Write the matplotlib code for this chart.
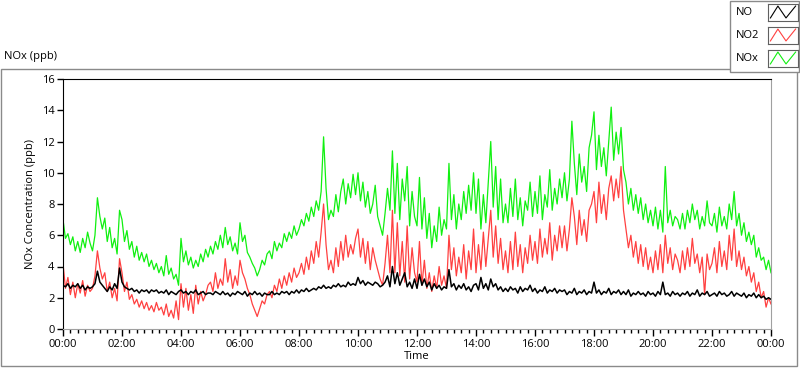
import numpy as np
import matplotlib.pyplot as plt
from matplotlib.patches import Rectangle

# === Data (5-minute readings, one row per hour, 00:00 -> 24:00) ===

nox_ppb = [
    7.0, 5.8, 6.1, 5.4, 5.9, 5.0, 5.6, 4.9, 5.8, 5.2, 6.2, 5.5,
    5.0, 6.0, 8.4, 7.2, 6.4, 7.1, 5.6, 6.5, 5.2, 5.8, 4.8, 7.6,
    7.0, 5.6, 6.3, 5.1, 5.6, 4.6, 5.3, 4.4, 4.9, 4.3, 4.8, 4.0,
    4.4, 3.8, 4.2, 3.6, 4.0, 3.4, 4.7, 3.5, 3.9, 3.2, 3.5, 2.8,
    5.8, 4.3, 5.0, 4.1, 4.6, 3.9, 4.4, 4.0, 4.8, 4.3, 5.1, 4.6,
    5.3, 4.8, 5.6, 5.1, 6.0, 5.2, 6.5, 5.4, 5.9, 5.0, 5.5, 4.8,
    6.8, 5.6, 6.0, 4.9, 4.6, 4.2, 3.9, 3.4, 3.8, 4.4, 4.1, 4.8,
    5.0, 4.5, 5.6, 5.0, 5.5, 5.2, 6.1, 5.6, 6.2, 5.8, 6.6, 6.0,
    6.4, 7.0, 6.6, 7.4, 6.9, 7.8, 7.2, 8.2, 7.6, 8.8, 12.3, 9.0,
    7.0, 7.6, 7.2, 8.6, 7.5, 8.8, 9.6, 8.0, 9.3, 8.4, 9.9, 8.6,
    10.0, 8.2, 9.4, 7.8, 8.8, 7.4, 8.0, 9.2, 7.2, 6.6, 6.0, 7.4,
    9.0, 7.6, 11.4, 7.4, 10.6, 7.0, 9.6, 8.2, 10.4, 6.6, 8.8, 7.2,
    6.6, 9.7, 6.4, 8.4, 5.8, 7.4, 5.2, 6.6, 5.6, 7.8, 6.0, 7.0,
    6.4, 10.6, 7.0, 8.6, 6.4, 8.0, 7.0, 8.8, 7.4, 9.2, 7.6, 10.0,
    7.4, 9.6, 6.4, 8.6, 6.8, 9.4, 12.0, 7.8, 10.4, 7.0, 9.6, 6.8,
    8.0, 6.8, 9.0, 7.2, 9.6, 7.0, 8.4, 6.6, 8.2, 7.6, 9.4, 7.2,
    8.8, 7.4, 9.8, 7.0, 8.6, 7.8, 10.2, 7.6, 9.0, 8.0, 9.6, 8.4,
    10.0, 8.2, 9.6, 13.3, 10.6, 8.6, 11.2, 9.4, 10.4, 8.8, 11.6, 12.4,
    13.9, 10.2, 12.4, 10.4, 11.6, 9.8, 12.0, 14.2, 10.8, 12.6, 11.2, 12.9,
    10.2, 9.4, 8.0, 9.0, 7.6, 8.6, 7.4, 8.4, 7.0, 8.0, 6.8, 7.6,
    6.6, 7.8, 6.4, 7.6, 6.2, 10.4, 6.8, 7.6, 6.6, 7.2, 7.0, 6.4,
    7.4, 6.4, 7.6, 6.8, 8.0, 7.0, 7.6, 6.4, 7.2, 6.6, 8.2, 6.8,
    6.6, 7.4, 6.2, 7.8, 6.6, 7.2, 6.4, 8.0, 7.0, 8.8, 6.6, 7.4,
    6.0, 6.8, 5.6, 6.2, 5.4, 6.0, 4.6, 5.2, 4.4, 4.6, 3.8, 4.4,
    3.6,
]

no2_ppb = [
    4.2, 2.6, 3.3, 2.2, 3.0, 2.0, 2.9, 2.3, 3.1, 2.1, 2.8, 2.4,
    2.6, 3.4, 5.0, 3.9, 3.2, 3.6, 2.4, 3.0, 2.0, 2.6, 1.8, 4.5,
    3.6, 2.4, 3.0, 1.9, 2.2, 1.6, 1.9, 1.4, 1.8, 1.3, 1.7, 1.2,
    1.5, 1.1, 1.7, 1.2, 1.4, 0.9, 1.6, 0.8, 1.2, 0.7, 1.8, 0.6,
    2.9, 1.4, 2.6, 1.2, 2.2, 1.0, 2.8, 1.6, 2.4, 1.8, 2.2, 2.8,
    3.0, 2.4, 3.6, 2.6, 3.2, 2.8, 4.5, 3.0, 3.8, 2.6, 3.4, 2.8,
    4.4, 3.6, 3.2, 2.6, 2.2, 1.6, 1.2, 0.8, 1.3, 1.8, 1.6, 2.2,
    2.4, 2.0, 2.8, 2.4, 3.2, 2.6, 3.4, 2.8, 3.6, 3.0, 3.9, 3.3,
    3.6, 4.2, 3.5, 4.6, 3.8, 5.0, 4.2, 5.6, 4.6, 6.2, 8.0, 5.4,
    3.8, 4.4, 3.6, 5.2, 4.0, 5.6, 4.4, 6.0, 4.6, 5.4, 4.8, 5.8,
    6.4, 4.6, 5.8, 4.2, 5.6, 3.8, 5.2, 4.4, 3.8, 3.2, 2.8, 4.2,
    6.0, 3.6, 7.6, 3.6, 6.8, 3.4, 5.6, 3.0, 6.6, 3.2, 5.2, 3.6,
    3.0, 5.6, 2.8, 4.4, 2.6, 3.6, 2.4, 3.4, 2.6, 4.0, 2.8, 3.4,
    2.6, 6.0, 3.8, 5.2, 3.4, 4.6, 3.6, 5.4, 3.2, 5.0, 3.8, 6.4,
    3.6, 5.4, 3.8, 6.2, 4.0, 5.8, 7.6, 4.6, 6.6, 4.2, 5.8, 3.8,
    5.0, 3.6, 5.6, 3.8, 6.2, 4.0, 5.4, 3.6, 5.2, 4.2, 6.0, 4.4,
    5.6, 4.2, 6.4, 4.6, 5.8, 4.8, 6.8, 4.4, 6.0, 5.0, 6.6, 5.2,
    6.6, 5.0, 6.4, 8.4, 7.2, 5.4, 7.6, 6.0, 7.0, 5.6, 7.6, 8.0,
    8.8, 6.8, 9.4, 7.4, 8.6, 7.0, 9.0, 9.8, 8.2, 9.6, 8.4, 10.4,
    7.6, 6.4, 5.2, 6.0, 4.6, 5.6, 4.2, 5.4, 4.0, 5.2, 3.8, 4.6,
    3.6, 5.0, 3.8, 5.4, 3.6, 6.0, 4.2, 5.2, 3.8, 4.8, 4.4, 3.6,
    5.0, 3.8, 5.2, 4.0, 5.8, 4.2, 4.8, 3.6, 4.6, 2.2, 4.8, 3.8,
    4.2, 5.2, 3.6, 5.6, 4.0, 5.0, 3.8, 6.0, 4.4, 6.4, 4.0, 5.0,
    3.8, 4.6, 3.4, 4.0, 3.0, 3.6, 2.4, 3.0, 2.0, 2.4, 1.4, 2.0,
    1.6,
]

no_ppb = [
    2.8, 2.7, 2.9, 2.6, 2.8, 2.7, 2.9, 2.6, 2.8, 2.5, 2.7, 2.6,
    2.7, 2.9, 3.7, 3.0, 2.8, 2.6, 2.4, 2.7, 2.5, 2.9, 2.6, 3.9,
    3.0, 2.7, 2.6, 2.5, 2.6, 2.4, 2.5, 2.3, 2.5, 2.4, 2.5, 2.3,
    2.5, 2.4, 2.5, 2.3, 2.4, 2.3, 2.5, 2.2, 2.4, 2.3, 2.2, 2.4,
    2.5, 2.3, 2.4, 2.2, 2.4, 2.3, 2.5, 2.2, 2.3, 2.4, 2.2, 2.3,
    2.3, 2.2, 2.4, 2.3, 2.2, 2.4, 2.2, 2.3, 2.1, 2.3, 2.2, 2.4,
    2.3, 2.2, 2.4, 2.1, 2.3, 2.2, 2.4, 2.2, 2.3, 2.1, 2.3, 2.2,
    2.2, 2.4, 2.2, 2.3, 2.2, 2.4, 2.3, 2.4, 2.2, 2.4, 2.3, 2.5,
    2.3, 2.5, 2.4, 2.6, 2.4, 2.5, 2.6, 2.5, 2.7, 2.6, 2.8, 2.6,
    2.7, 2.6, 2.8, 2.7, 2.9, 2.7, 2.8, 2.7, 3.0, 2.8, 2.9, 2.8,
    3.3, 2.9, 3.1, 2.8, 3.0, 2.9, 2.8, 3.0, 2.9, 2.7, 2.8, 3.0,
    3.4, 2.7, 4.0, 2.9, 3.6, 2.8, 3.2, 3.6, 2.7, 3.0, 2.6, 3.2,
    2.6, 3.5, 2.8, 3.2, 2.7, 3.0, 2.5, 2.9, 2.6, 2.8, 2.5, 2.7,
    2.6, 3.8, 2.7, 2.9, 2.5, 2.8, 2.6, 2.9, 2.5, 2.7, 2.4, 2.8,
    2.9, 2.5, 3.3, 2.6, 2.9, 2.5, 3.2, 2.7, 2.9, 2.5, 2.7, 2.4,
    2.6, 2.4, 2.7, 2.5, 2.6, 2.3, 2.7, 2.4, 2.6, 2.5, 2.8, 2.4,
    2.6, 2.3, 2.5, 2.4, 2.7, 2.3, 2.5, 2.4, 2.6, 2.3, 2.5, 2.4,
    2.5, 2.2, 2.4, 2.3, 2.6, 2.2, 2.4, 2.3, 2.5, 2.2, 2.4, 2.3,
    3.0, 2.3, 2.5, 2.2, 2.4, 2.3, 2.6, 2.2, 2.4, 2.3, 2.5, 2.2,
    2.4, 2.2, 2.5, 2.1, 2.3, 2.2, 2.4, 2.2, 2.3, 2.1, 2.4, 2.2,
    2.3, 2.1, 2.4, 2.2, 3.0, 2.2, 2.3, 2.1, 2.4, 2.2, 2.3, 2.1,
    2.3, 2.2, 2.4, 2.1, 2.3, 2.2, 2.5, 2.1, 2.3, 2.2, 2.4, 2.1,
    2.2, 2.3, 2.1, 2.4, 2.2, 2.3, 2.1, 2.2, 2.4, 2.1, 2.3, 2.2,
    2.1, 2.3, 2.0, 2.2, 2.1, 2.3, 2.0, 2.2, 2.0, 2.1, 1.9, 2.0,
    1.9,
]

series_names = ["NO", "NO2", "NOx"]
series_colors = ["#000000", "#ff4040", "#10f010"]
hour_ticks = list(range(0, 25, 2))
tick_labels = [f"{h % 24:02d}:00" for h in hour_ticks]
y_ticks = list(range(0, 17, 2))
legend_zigzag_x = [0.08, 0.33, 0.6, 0.92]
legend_zigzag_y = [0.15, 0.85, 0.15, 0.85]

hours = np.arange(len(no_ppb)) * 5 / 60.0

# === Figure ===

W, H = 800, 369
FS = 8
plt.rcParams["font.family"] = ["Open Sans", "DejaVu Sans"]
fig = plt.figure(figsize=(W / 100, H / 100), dpi=100)
fig.patch.set_facecolor("white")


def fx(px):
    return px / W


def fy(py):
    return 1 - py / H


# outer frame of the graph
fig.patches.append(
    Rectangle((fx(1), fy(366)), fx(797) - fx(1), fy(69) - fy(366),
              transform=fig.transFigure, fill=False, edgecolor="#8a8a8a", lw=1)
)
fig.text(fx(4), fy(57), "NOx (ppb)", fontsize=FS, va="center", ha="left")

ax = fig.add_axes([fx(63), fy(329), fx(771) - fx(63), fy(79) - fy(329)])
ax.plot(hours, nox_ppb, color=series_colors[2], lw=0.9)
ax.plot(hours, no2_ppb, color=series_colors[1], lw=0.9)
ax.plot(hours, no_ppb, color=series_colors[0], lw=1.1)

ax.set_xlim(0, 24)
ax.set_ylim(0, 16)
ax.set_xticks(hour_ticks)
ax.set_xticklabels(tick_labels)
ax.set_xticks(np.arange(0, 24.01, 0.25), minor=True)
ax.set_yticks(y_ticks)
ax.tick_params(axis="both", labelsize=FS, direction="out", color="black", pad=2)
ax.tick_params(axis="x", which="major", length=5, width=1)
ax.tick_params(axis="x", which="minor", length=3, width=1)
ax.tick_params(axis="y", length=4, width=1)
ax.set_xlabel("Time", fontsize=FS, labelpad=1)
ax.set_ylabel("NOx Concentration (ppb)", fontsize=FS, labelpad=4)
for side in ["left", "top"]:
    ax.spines[side].set_color("black")
for side in ["right", "bottom"]:
    ax.spines[side].set_color("#a0a0a0")

# === Legend box (top right) ===

fig.patches.append(
    Rectangle((fx(730), fy(72)), fx(799) - fx(730), fy(0.5) - fy(72),
              transform=fig.transFigure, facecolor="white", edgecolor="#8a8a8a",
              lw=1, zorder=5)
)
swatch_tops = [3.5, 26.5, 49.5]
for name, color, top in zip(series_names, series_colors, swatch_tops):
    fig.text(fx(736), fy(top + 9), name, fontsize=FS, va="center", ha="left",
             zorder=6)
    sw = fig.add_axes([fx(768), fy(top + 17), fx(798) - fx(768), fy(top) - fy(top + 17)])
    sw.set_zorder(10)
    sw.plot(legend_zigzag_x, legend_zigzag_y, color=color, lw=0.8)
    sw.set_xlim(0, 1)
    sw.set_ylim(0, 1)
    sw.set_xticks([])
    sw.set_yticks([])
    for s in sw.spines.values():
        s.set_color("#606060")
        s.set_linewidth(0.8)

fig.savefig("out.png", dpi=100)
